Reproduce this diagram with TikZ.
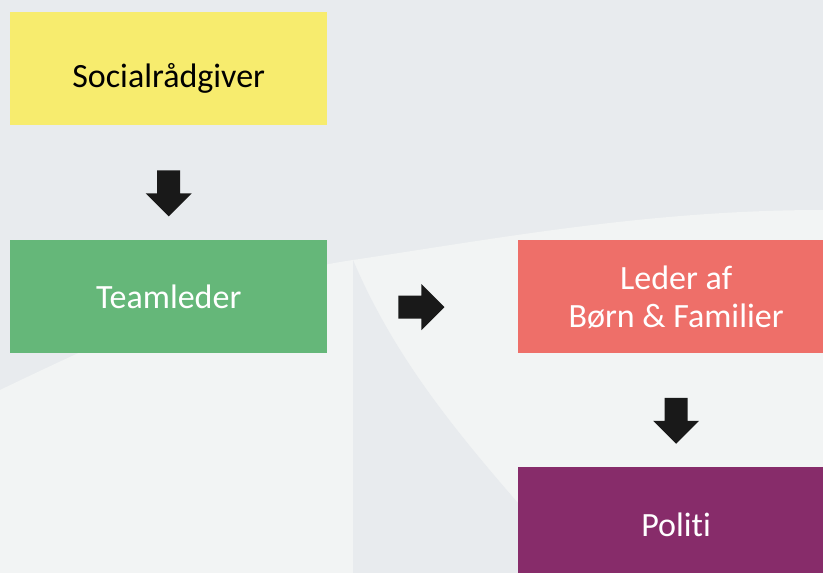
\documentclass[tikz,border=0pt]{standalone}
\usepackage{fontspec}
\setmainfont{Carlito}[Ligatures=NoCommon]
\usepackage{pgf,tikz}
\usetikzlibrary{positioning}
\definecolor{baggrund}{HTML}{E8EBEE}
\definecolor{lys}{HTML}{F2F4F4}
\definecolor{gul}{HTML}{F7EC6E}
\definecolor{groen}{HTML}{65B779}
\definecolor{roed}{HTML}{EE6F69}
\definecolor{lilla}{HTML}{872C6A}
\definecolor{pil}{HTML}{191919}
\tikzstyle{kasse} = [rectangle, minimum width=317pt, minimum height=113pt, inner sep=0pt, align=center, text height=25pt, text depth=0pt, font=\fontsize{34}{38}\selectfont]
\tikzstyle{pilfyld} = [fill=pil, draw=none]
\tikzset{
	pilned/.pic={\fill[pilfyld] (-11.5,0) -- (11.5,0) -- (11.5,23) -- (23,23) -- (0,46) -- (-23,23) -- (-11.5,23) -- cycle;},
	pilhoejre/.pic={\fill[pilfyld] (0,-11.5) -- (0,11.5) -- (23,11.5) -- (23,23) -- (46,0) -- (23,-23) -- (23,-11.5) -- cycle;}
}

\begin{document}
\begin{tikzpicture}[x=1pt, y=-1pt]
	\useasboundingbox (0,0) rectangle (823,573);
	\clip (0,0) rectangle (823,573);
	% baggrund
	\fill[baggrund] (0,0) rectangle (823,573);
	\fill[lys] (0,390) .. controls (150,318) and (250,275) .. (353,260) .. controls (500,238) and (650,210) .. (823,210) -- (823,573) -- (0,573) -- cycle;
	\fill[baggrund] (353,260) .. controls (400,370) and (470,450) .. (580,573) -- (353,573) -- cycle;
	% kasser
	\node[kasse, fill=gul, text=black, text height=38pt, anchor=north west] (soc) at (10,12) {Socialrådgiver};
	\node[kasse, fill=groen, text=white, below=114pt of soc] (team) {Teamleder};
	\node[kasse, fill=roed, text=white, text height=63pt, right=190pt of team] (leder) {Leder af\\Børn \& Familier};
	\node[kasse, fill=lilla, text=white, below=114pt of leder] (politi) {Politi};
	% pile
	\pic at ([yshift=-45pt]soc.south) {pilned};
	\pic at ([xshift=71pt, yshift=-11pt]team.east) {pilhoejre};
	\pic at ([yshift=-45pt]leder.south) {pilned};
\end{tikzpicture}
\end{document}
